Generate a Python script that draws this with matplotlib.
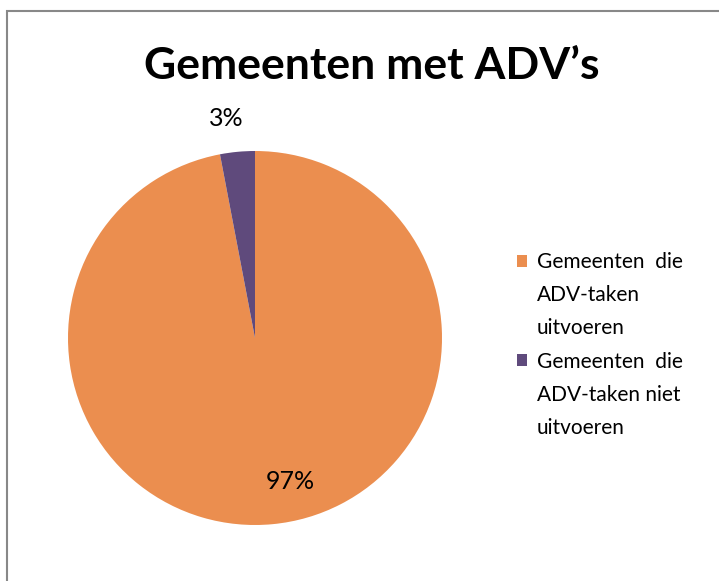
import matplotlib.pyplot as plt
from matplotlib.patches import Rectangle, Patch

plt.rcParams['font.family'] = ['Lato', 'DejaVu Sans']

title = "Gemeenten met ADV\u2019s"
categories = ["Gemeenten die ADV-taken uitvoeren",
              "Gemeenten die ADV-taken niet uitvoeren"]
legend_lines = [["Gemeenten  die", "ADV-taken", "uitvoeren"],
                ["Gemeenten  die", "ADV-taken niet", "uitvoeren"]]
values = [97, 3]
colors = ["#EB8E4F", "#5F4A7C"]
# where the percentage labels sit (axes data units, pie radius = 1)
label_pos = [(0.19, -0.77), (-0.155, 1.175)]

fig = plt.figure(figsize=(7.19, 5.81), dpi=100)

# chart border (left and top edges visible)
fig.patches.append(Rectangle((7 / 719, -0.1), 1.2, 1 - 11 / 581 + 0.1,
                             transform=fig.transFigure, fill=False,
                             edgecolor="#888888", linewidth=1.5))

ax = fig.add_axes([68 / 719, 56 / 581, 374 / 719, 374 / 581])
wedges, texts, autotexts = ax.pie(values, colors=colors, startangle=90,
                                  counterclock=False, radius=1,
                                  autopct=lambda p: f"{p:.0f}%",
                                  textprops={"fontsize": 18, "color": "black"})
for t, pos in zip(autotexts, label_pos):
    t.set_position(pos)
ax.set_xlim(-1, 1)
ax.set_ylim(-1, 1)
ax.set_aspect("equal")
ax.axis("off")

fig.text(372 / 719, 1 - 66 / 581, title, ha="center", va="center",
         fontsize=32, fontweight="bold")

# legend: one row per text line so the swatch sits on the first line
handles, labels = [], []
for w, lines in zip(wedges, legend_lines):
    for i, line in enumerate(lines):
        if i == 0:
            handles.append(Patch(facecolor=w.get_facecolor(), edgecolor="none"))
        else:
            handles.append(Patch(facecolor="none", edgecolor="none"))
        labels.append(line)
fig.legend(handles, labels, loc="center left",
           bbox_to_anchor=(517 / 719, 1 - 345 / 581), frameon=False,
           fontsize=15, handlelength=0.5, handleheight=0.5,
           handletextpad=0.45, labelspacing=0.63, borderpad=0,
           borderaxespad=0)

plt.savefig("out.png", dpi=100)
